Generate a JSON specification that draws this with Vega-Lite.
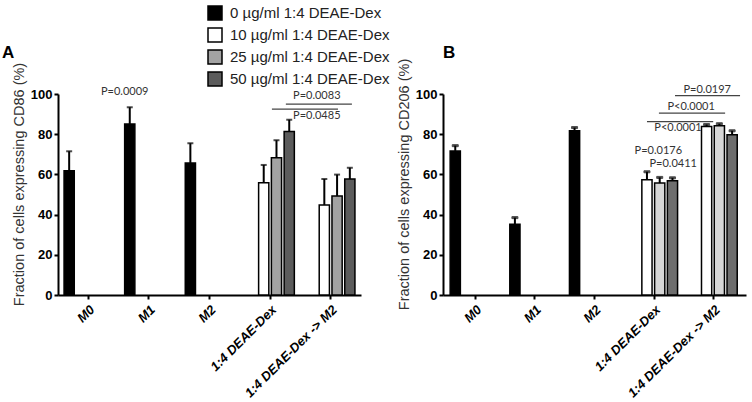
{
  "$schema": "https://vega.github.io/schema/vega-lite/v6.json",
  "padding": {"left": 2, "top": 5, "right": 5, "bottom": 2},
  "config": {
    "view": {"stroke": null},
    "font": "Liberation Sans",
    "axis": {
      "domainColor": "black", "domainWidth": 2, "tickColor": "black", "tickWidth": 2, "tickSize": 4,
      "grid": false, "labelColor": "black", "labelFont": "Liberation Sans", "labelFontWeight": "bold",
      "titleFontWeight": "normal", "titleColor": "#333", "titleFont": "Liberation Sans", "titleFontSize": 14.5
    },
    "title": {"font": "Liberation Sans", "fontSize": 17, "fontWeight": "bold", "anchor": "start", "color": "black", "frame": "group"}
  },
  "datasets": {
    "cd86": [
      {"group": "M0", "dose": "0 µg/ml 1:4 DEAE-Dex", "mean": 61.8, "upper": 71.5},
      {"group": "M1", "dose": "0 µg/ml 1:4 DEAE-Dex", "mean": 85.1, "upper": 93.4},
      {"group": "M2", "dose": "0 µg/ml 1:4 DEAE-Dex", "mean": 65.7, "upper": 75.5},
      {"group": "1:4 DEAE-Dex", "dose": "10 µg/ml 1:4  DEAE-Dex", "mean": 55.9, "upper": 64.7},
      {"group": "1:4 DEAE-Dex", "dose": "25 µg/ml 1:4 DEAE-Dex", "mean": 68.3, "upper": 77.0},
      {"group": "1:4 DEAE-Dex", "dose": "50 µg/ml 1:4 DEAE-Dex", "mean": 81.4, "upper": 87.2},
      {"group": "1:4 DEAE-Dex -> M2", "dose": "10 µg/ml 1:4  DEAE-Dex", "mean": 44.8, "upper": 57.7},
      {"group": "1:4 DEAE-Dex -> M2", "dose": "25 µg/ml 1:4 DEAE-Dex", "mean": 49.3, "upper": 59.9},
      {"group": "1:4 DEAE-Dex -> M2", "dose": "50 µg/ml 1:4 DEAE-Dex", "mean": 57.7, "upper": 63.3}
    ],
    "cd206": [
      {"group": "M0", "dose": "0 µg/ml 1:4 DEAE-Dex", "mean": 71.7, "upper": 74.3},
      {"group": "M1", "dose": "0 µg/ml 1:4 DEAE-Dex", "mean": 35.2, "upper": 38.5},
      {"group": "M2", "dose": "0 µg/ml 1:4 DEAE-Dex", "mean": 81.7, "upper": 83.3},
      {"group": "1:4 DEAE-Dex", "dose": "10 µg/ml 1:4  DEAE-Dex", "mean": 57.3, "upper": 61.3},
      {"group": "1:4 DEAE-Dex", "dose": "25 µg/ml 1:4 DEAE-Dex", "mean": 55.7, "upper": 58.5},
      {"group": "1:4 DEAE-Dex", "dose": "50 µg/ml 1:4 DEAE-Dex", "mean": 56.8, "upper": 58.3},
      {"group": "1:4 DEAE-Dex -> M2", "dose": "10 µg/ml 1:4  DEAE-Dex", "mean": 83.8, "upper": 84.8},
      {"group": "1:4 DEAE-Dex -> M2", "dose": "25 µg/ml 1:4 DEAE-Dex", "mean": 84.2, "upper": 85.2},
      {"group": "1:4 DEAE-Dex -> M2", "dose": "50 µg/ml 1:4 DEAE-Dex", "mean": 79.7, "upper": 81.7}
    ],
    "textA": [
      {"pos": 1.10, "val": 101, "label": "P=0.0009"},
      {"pos": 4.27, "val": 99, "label": "P=0.0083"},
      {"pos": 4.27, "val": 89, "label": "P=0.0485"}
    ],
    "linesA": [
      {"pos": 3.76, "pos2": 4.85, "val": 95},
      {"pos": 3.53, "pos2": 4.62, "val": 92.5}
    ],
    "textB": [
      {"pos": 4.43, "val": 101.8, "label": "P=0.0197"},
      {"pos": 4.16, "val": 93.5, "label": "P<0.0001"},
      {"pos": 3.94, "val": 83, "label": "P<0.0001"},
      {"pos": 3.61, "val": 71.7, "label": "P=0.0176"},
      {"pos": 3.86, "val": 65, "label": "P=0.0411"}
    ],
    "linesB": [
      {"pos": 3.89, "pos2": 4.98, "val": 99.2},
      {"pos": 3.62, "pos2": 4.73, "val": 90.5},
      {"pos": 3.42, "pos2": 4.53, "val": 86.3}
    ]
  },
  "hconcat": [
    {
      "title": {"text": "A", "dx": -56, "offset": 0},
      "width": 303,
      "height": 201,
      "resolve": {"scale": {"x": "independent", "y": "independent"}},
      "layer": [
        {
          "layer": [
            {
              "mark": {"type": "bar", "stroke": "black", "strokeWidth": 1.5},
              "encoding": {
                "fill": {"field": "dose", "type": "nominal",
                  "scale": {"domain": ["0 µg/ml 1:4 DEAE-Dex", "10 µg/ml 1:4  DEAE-Dex", "25 µg/ml 1:4 DEAE-Dex", "50 µg/ml 1:4 DEAE-Dex"],
                            "range": ["#000000", "#ffffff", "#a3a3a3", "#5c5c5c"]},
                  "legend": {"title": null, "orient": "none", "legendX": 149, "legendY": -89, "padding": 0,
                    "symbolType": "square", "symbolSize": 196, "symbolStrokeColor": "black", "symbolStrokeWidth": 1.5,
                    "labelFontSize": 15, "labelFont": "Liberation Sans", "labelColor": "#222", "labelOffset": 7,
                    "rowPadding": 2, "labelLimit": 300}},
                "y": {"field": "mean", "type": "quantitative"}
              }
            },
            {
              "mark": {"type": "rule", "color": "black", "strokeWidth": 2},
              "encoding": {
                "y": {"field": "mean", "type": "quantitative"},
                "y2": {"field": "upper"}
              }
            },
            {
              "mark": {"type": "tick", "color": "black", "thickness": 2, "size": 6},
              "encoding": {
                "y": {"field": "upper", "type": "quantitative"}
              }
            }
          ],
          "data": {"name": "cd86"},
          "encoding": {
            "x": {"field": "group", "type": "nominal", "title": null,
              "scale": {"domain": ["M0", "M1", "M2", "1:4 DEAE-Dex", "1:4 DEAE-Dex -> M2"], "paddingInner": 0.2, "paddingOuter": 0.1},
              "axis": {"labelAngle": -45, "labelFontStyle": "italic", "labelFontSize": 13, "labelPadding": 4}},
            "xOffset": {"field": "dose", "type": "nominal",
              "scale": {"domain": ["0 µg/ml 1:4 DEAE-Dex", "10 µg/ml 1:4  DEAE-Dex", "25 µg/ml 1:4 DEAE-Dex", "50 µg/ml 1:4 DEAE-Dex"], "paddingInner": 0.2, "paddingOuter": 0}},
            "y": {"type": "quantitative", "scale": {"domain": [0, 100], "nice": false},
              "axis": {"values": [0, 20, 40, 60, 80, 100], "labelOverlap": false, "title": "Fraction of cells expressing CD86 (%)", "labelFontSize": 13, "labelPadding": 2, "titleY": 90, "titlePadding": 4}}
          }
        },
        {
          "data": {"name": "linesA"},
          "mark": {"type": "rule", "color": "#444", "strokeWidth": 1.2},
          "encoding": {
            "x": {"field": "pos", "type": "quantitative", "scale": {"domain": [0, 5], "nice": false, "zero": false}, "axis": null},
            "x2": {"field": "pos2"},
            "y": {"field": "val", "type": "quantitative", "scale": {"domain": [0, 100], "nice": false}, "axis": null}
          }
        },
        {
          "data": {"name": "textA"},
          "mark": {"type": "text", "font": "Lato", "fontSize": 11, "color": "#333", "baseline": "middle"},
          "encoding": {
            "x": {"field": "pos", "type": "quantitative", "scale": {"domain": [0, 5], "nice": false, "zero": false}, "axis": null},
            "y": {"field": "val", "type": "quantitative", "scale": {"domain": [0, 100], "nice": false}, "axis": null},
            "text": {"field": "label"}
          }
        }
      ]
    },
    {
      "title": {"text": "B", "dx": 0, "offset": -4},
      "width": 303,
      "height": 201,
      "resolve": {"scale": {"x": "independent", "y": "independent"}},
      "layer": [
        {
          "layer": [
            {
              "mark": {"type": "bar", "stroke": "black", "strokeWidth": 1.5},
              "encoding": {
                "color": {"field": "dose", "type": "nominal", "legend": null,
                  "scale": {"domain": ["0 µg/ml 1:4 DEAE-Dex", "10 µg/ml 1:4  DEAE-Dex", "25 µg/ml 1:4 DEAE-Dex", "50 µg/ml 1:4 DEAE-Dex"],
                            "range": ["#000000", "#ffffff", "#d6d6d6", "#6e6e6e"]}},
                "y": {"field": "mean", "type": "quantitative"}
              }
            },
            {
              "mark": {"type": "rule", "stroke": "black", "strokeWidth": 2},
              "encoding": {
                "y": {"field": "mean", "type": "quantitative"},
                "y2": {"field": "upper"}
              }
            },
            {
              "mark": {"type": "tick", "stroke": "black", "fill": "black", "thickness": 2, "size": 6},
              "encoding": {
                "y": {"field": "upper", "type": "quantitative"}
              }
            }
          ],
          "data": {"name": "cd206"},
          "encoding": {
            "x": {"field": "group", "type": "nominal", "title": null,
              "scale": {"domain": ["M0", "M1", "M2", "1:4 DEAE-Dex", "1:4 DEAE-Dex -> M2"], "paddingInner": 0.16, "paddingOuter": 0.12},
              "axis": {"labelAngle": -45, "labelFontStyle": "italic", "labelFontSize": 13, "labelPadding": 4}},
            "xOffset": {"field": "dose", "type": "nominal",
              "scale": {"domain": ["0 µg/ml 1:4 DEAE-Dex", "10 µg/ml 1:4  DEAE-Dex", "25 µg/ml 1:4 DEAE-Dex", "50 µg/ml 1:4 DEAE-Dex"], "paddingInner": 0.26, "paddingOuter": 0}},
            "y": {"type": "quantitative", "scale": {"domain": [0, 100], "nice": false},
              "axis": {"values": [0, 20, 40, 60, 80, 100], "labelOverlap": false, "title": "Fraction of cells expressing CD206 (%)", "labelFontSize": 13, "labelPadding": 2, "titleY": 90, "titlePadding": 4}}
          }
        },
        {
          "data": {"name": "linesB"},
          "mark": {"type": "rule", "color": "#444", "strokeWidth": 1.2},
          "encoding": {
            "x": {"field": "pos", "type": "quantitative", "scale": {"domain": [0, 5.08], "nice": false, "zero": false}, "axis": null},
            "x2": {"field": "pos2"},
            "y": {"field": "val", "type": "quantitative", "scale": {"domain": [0, 100], "nice": false}, "axis": null}
          }
        },
        {
          "data": {"name": "textB"},
          "mark": {"type": "text", "font": "Lato", "fontSize": 11, "color": "#333", "baseline": "middle"},
          "encoding": {
            "x": {"field": "pos", "type": "quantitative", "scale": {"domain": [0, 5.08], "nice": false, "zero": false}, "axis": null},
            "y": {"field": "val", "type": "quantitative", "scale": {"domain": [0, 100], "nice": false}, "axis": null},
            "text": {"field": "label"}
          }
        }
      ]
    }
  ],
  "spacing": 35
}
